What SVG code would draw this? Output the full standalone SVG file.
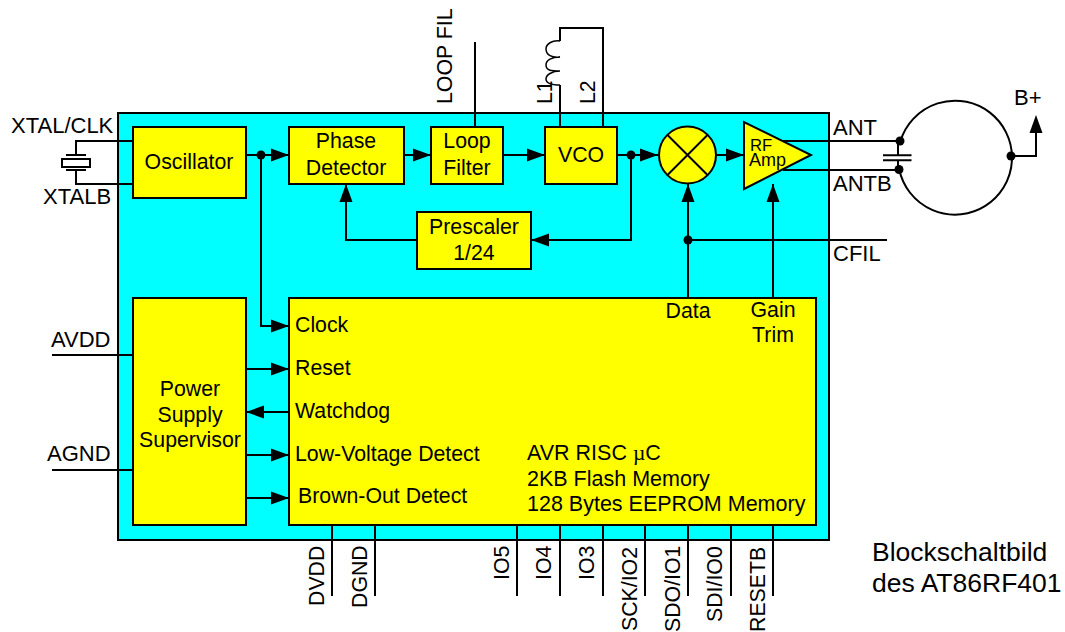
<svg xmlns="http://www.w3.org/2000/svg" width="1065" height="632" viewBox="0 0 1065 632">
<style>
text{font-family:"Liberation Sans",Arial,sans-serif;font-size:21.300px;fill:#000}
.m{text-anchor:middle}
.o{font-size:22px}
.c{font-size:26.500px}
.r{font-size:18px}
.f{font-size:16.700px}
.k{font-size:21.500px}
.b{fill:#ff0;stroke:#000;stroke-width:2}
.w{fill:none;stroke:#000;stroke-width:2}
.t{fill:none;stroke:#000;stroke-width:1.500}
.a{fill:#000;stroke:none}
</style>
<defs>
<path id="ar" d="M0 0L-18 -6.500V6.500Z"/>
<circle id="dot" r="4.500"/>
</defs>
<rect id="chip" x="118" y="113" width="711" height="427" fill="#0ff" stroke="#000" stroke-width="2"/>
<g id="oscillator"><rect class="b" x="133" y="127" width="113" height="71"/><text class="m" x="189" y="169">Oscillator</text></g>
<g id="phase-detector"><rect class="b" x="289" y="127" width="115" height="57"/><text class="m" x="346" y="148">Phase</text><text class="m" x="346" y="175">Detector</text></g>
<g id="loop-filter"><rect class="b" x="431" y="127" width="72" height="57"/><text class="m" x="467" y="148">Loop</text><text class="m" x="467" y="175">Filter</text></g>
<g id="vco"><rect class="b" x="545" y="127" width="72" height="57"/><text class="m" x="581" y="162">VCO</text></g>
<g id="mixer"><circle class="b" cx="687.500" cy="155" r="28.500"/><path class="w" d="M667.500 135L707.500 175M707.500 135L667.500 175"/></g>
<g id="rf-amp"><path class="b" d="M744 122V189L811 155Z"/><text class="f" x="750" y="151">RF</text><text class="r" x="749" y="166">Amp</text></g>
<g id="prescaler"><rect class="b" x="417" y="212" width="114" height="57"/><text class="m" x="474" y="234">Prescaler</text><text class="m" x="474" y="260">1/24</text></g>
<g id="power-supply"><rect class="b" x="133" y="298" width="113" height="227"/><text class="m" x="190" y="396">Power</text><text class="m" x="190" y="422">Supply</text><text class="m" x="190" y="447">Supervisor</text></g>
<g id="mcu"><rect class="b" x="289" y="298" width="527" height="227"/>
<text x="295" y="332">Clock</text><text x="295" y="375">Reset</text><text x="295" y="418">Watchdog</text><text x="295" y="461">Low-Voltage Detect</text><text x="298" y="503">Brown-Out Detect</text>
<text class="m" x="688" y="318">Data</text><text class="m" x="773" y="317">Gain</text><text class="m" x="773" y="342">Trim</text>
<text class="k" x="527" y="460">AVR RISC <tspan font-family="Liberation Serif">µ</tspan>C</text><text class="k" x="527" y="486">2KB Flash Memory</text><text class="k" x="527" y="511">128 Bytes EEPROM Memory</text></g>
<g id="connectors">
<path class="w" d="M133 141H76V155M133 184H76V170M66 155H86M66 170H86M246 155H289M261 155V326H289M404 155H431M503 155H545M617 155H658M631 155V240H531M417 240H346V184M716 155H744M688 184V298M688 240H887M773 184V298M246 369H289M246 412H289M246 455H289M246 498H289"/>
<rect x="62" y="159" width="28" height="8" class="w"/>
<path class="w" d="M475 42V127M560 127V85M603 127V28H560V41M52 355H133M52 470H133"/>
<path class="t" d="M560 41C552 40 546 44 546 49C546 55 552 58 560 57C552 57 546 60 546 65C546 71 552 71 560 71C552 71 546 75 546 79C546 84 552 85 560 85"/>
<path class="w" d="M783 141H900M783 170H899"/>
<path class="w" d="M898 141V155M898 170V160M883 155.300H911.500M883 160.300H911.500"/>
<path class="w" d="M900.500 141A57 57 0 1 1 899.200 169.300M1011 156H1036V125"/>
<path class="w" d="M332 525V596M375 525V596M517 525V596M560 525V596M603 525V596M645 525V596M688 525V596M731 525V596M773 525V596"/>
<g class="a">
<use href="#ar" transform="translate(289 155)"/>
<use href="#ar" transform="translate(431 155)"/>
<use href="#ar" transform="translate(545 155)"/>
<use href="#ar" transform="translate(658 155)"/>
<use href="#ar" transform="translate(744 155)"/>
<use href="#ar" transform="translate(346 184) rotate(-90)"/>
<use href="#ar" transform="translate(531 240) rotate(180)"/>
<use href="#ar" transform="translate(688 184) rotate(-90)"/>
<use href="#ar" transform="translate(773 184) rotate(-90)"/>
<use href="#ar" transform="translate(1036 115) rotate(-90)"/>
<use href="#ar" transform="translate(289 326)"/>
<use href="#ar" transform="translate(289 369)"/>
<use href="#ar" transform="translate(246 412) rotate(180)"/>
<use href="#ar" transform="translate(289 455)"/>
<use href="#ar" transform="translate(289 498)"/>
<use href="#dot" x="261" y="155"/>
<use href="#dot" x="631" y="155"/>
<use href="#dot" x="688" y="240"/>
<use href="#dot" x="900" y="141"/>
<use href="#dot" x="899" y="169.500"/>
<use href="#dot" x="1011" y="156"/>
</g>
</g>
<g id="labels">
<text class="o" x="11" y="133">XTAL/CLK</text><text class="o" x="43" y="204">XTALB</text><text class="o" x="51" y="347">AVDD</text><text class="o" x="47" y="461">AGND</text>
<text class="o" x="833" y="135">ANT</text><text class="o" x="833" y="191">ANTB</text><text class="o" x="833" y="261">CFIL</text><text class="o" x="1014" y="105">B+</text>
<text class="c" x="872" y="560.500">Blockschaltbild</text><text class="c" x="872" y="591.500">des AT86RF401</text>
<text transform="translate(452 104) rotate(-90)">LOOP FIL</text>
<text transform="translate(552 104) rotate(-90)">L1</text>
<text transform="translate(595 104) rotate(-90)">L2</text>
<text transform="translate(324 606) rotate(-90)">DVDD</text>
<text transform="translate(367 608) rotate(-90)">DGND</text>
<text transform="translate(509 580) rotate(-90)">IO5</text>
<text transform="translate(551 580) rotate(-90)">IO4</text>
<text transform="translate(594 580) rotate(-90)">IO3</text>
<text transform="translate(637 631) rotate(-90)">SCK/IO2</text>
<text transform="translate(680 632) rotate(-90)">SDO/IO1</text>
<text transform="translate(722 622) rotate(-90)">SDI/IO0</text>
<text transform="translate(765 632) rotate(-90)">RESETB</text>
</g>
</svg>
